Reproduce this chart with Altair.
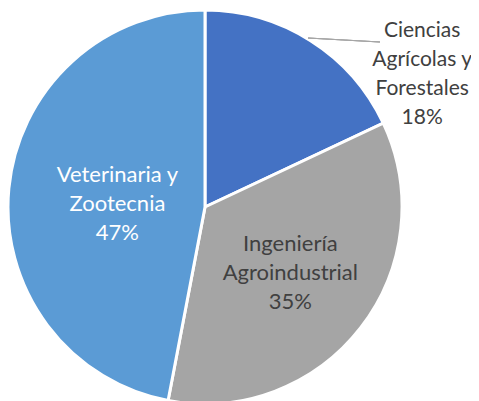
import altair as alt
import pandas as pd

names = ["Ciencias Agrícolas y Forestales", "Ingeniería Agroindustrial", "Veterinaria y Zootecnia"]
values = [18, 35, 47]
wrapped = ["Ciencias\nAgrícolas y\nForestales", "Ingeniería\nAgroindustrial", "Veterinaria y\nZootecnia"]
colors = ["#4472C4", "#A5A5A5", "#5B9BD5"]

df = pd.DataFrame({"name": names, "value": values, "wrapped": wrapped})

FONT = "Lato"
FS = 22
LH = 29
CX, CY = 197, 199

base = alt.Chart(df).transform_window(
    idx="row_number()"
).transform_joinaggregate(
    total="sum(value)"
).transform_window(
    cum="sum(value)", sort=[alt.SortField("idx")], frame=[None, 0]
).transform_calculate(
    txt="datum.wrapped + '\\n' + datum.value + '%'"
).transform_calculate(
    nlines="length(split(datum.txt, '\\n'))",
    mid="(datum.cum - datum.value / 2) / datum.total * 2 * PI",
    r="datum.idx == 1 ? 200 : (datum.idx == 2 ? 108 : 88)",
    off="datum.idx == 3 ? 5 : 0",
).transform_calculate(
    lx=f"{CX} + datum.r * sin(datum.mid)",
    ly=f"{CY} - datum.r * cos(datum.mid) - (datum.nlines - 1) * {LH} / 2 + datum.off",
)

arcs = base.mark_arc(outerRadius=197, stroke="white", strokeWidth=3).encode(
    theta=alt.Theta("value:Q", stack=True),
    order=alt.Order("idx:Q"),
    color=alt.Color("name:N", scale=alt.Scale(domain=names, range=colors), legend=None),
    x=alt.value(CX),
    y=alt.value(CY),
)

inner = base.transform_filter("datum.idx != 1").mark_text(
    font=FONT, fontSize=FS, lineHeight=LH, lineBreak="\n", align="center", baseline="middle"
).encode(
    x=alt.X("lx:Q", scale=None),
    y=alt.Y("ly:Q", scale=None),
    text="txt:N",
    color=alt.condition("datum.idx == 3", alt.value("white"), alt.value("#404040")),
)

outer = base.transform_filter("datum.idx == 1").mark_text(
    font=FONT, fontSize=21, lineHeight=LH, lineBreak="\n", align="center", baseline="middle",
    color="#404040", dx=110, dy=36,
).encode(
    x=alt.X("lx:Q", scale=None),
    y=alt.Y("ly:Q", scale=None),
    text="txt:N",
)

leader = alt.Chart(df).mark_rule(color="#A6A6A6", strokeWidth=1.2).encode(
    x=alt.value(300), y=alt.value(30), x2=alt.value(372), y2=alt.value(34)
)

chart = alt.layer(arcs, leader, inner, outer).properties(
    width=463, height=393, padding=0, autosize="none"
).configure_view(stroke=None)

chart.save("out.html", embed_options={"renderer": "svg", "actions": False})
